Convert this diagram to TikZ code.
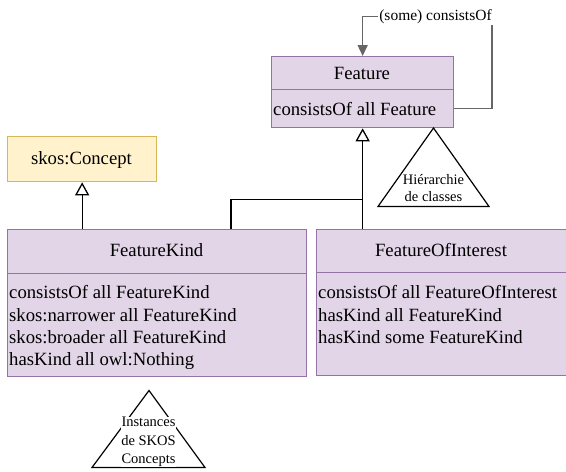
\documentclass[tikz,border=0pt]{standalone}
\usepackage{fontspec}
\setmainfont{Liberation Serif}
\usetikzlibrary{arrows.meta}
\definecolor{boxfill}{HTML}{E1D5E7}
\definecolor{boxline}{HTML}{9673A6}
\definecolor{skosfill}{HTML}{FFF2CC}
\definecolor{skosline}{HTML}{D6B656}
\definecolor{loopgray}{HTML}{666666}
\tikzset{
  umlbox/.style={draw=boxline, fill=boxfill, line width=1.3pt, inner sep=0pt, anchor=north west},
  skosbox/.style={draw=skosline, fill=skosfill, line width=1.3pt, inner sep=0pt, anchor=north west},
  big/.style={font=\fontsize{18.7}{22.5}\selectfont, inner sep=0pt},
  title/.style={big, anchor=base},
  attr/.style={big, anchor=base west},
  inh/.style={draw=black, line width=1.3pt, -{Triangle[width=14pt,length=13pt,fill=white]}},
  selfloop/.style={draw=loopgray, line width=1.5pt, -{Triangle[width=10pt,length=11pt]}},
  tri/.style={draw=black, line width=1.2pt, line join=miter},
  trilabel/.style={fill=white, inner sep=0.5pt, align=center, font=\fontsize{14.5}{17.5}\selectfont},
}
\begin{document}
\begin{tikzpicture}[x=1pt,y=-1pt]
\useasboundingbox (0,0) rectangle (566,472);

% Feature
\node[umlbox, minimum width=182pt, minimum height=33pt] (feathead) at (271,56) {};
\node[umlbox, minimum width=182pt, minimum height=38pt] (featbody) at (271,89) {};
\node[title] (feattitle) at (362,79) {Feature};
\node[attr] (feata1) at (273,115) {consistsOf all Feature};

% skos:Concept
\node[skosbox, minimum width=149pt, minimum height=45pt] (skos) at (7,136) {};
\node[title] (skostitle) at (81.5,164.5) {skos:Concept};

% FeatureKind
\node[umlbox, minimum width=299pt, minimum height=44pt] (fkhead) at (7,229) {};
\node[umlbox, minimum width=299pt, minimum height=103pt] (fkbody) at (7,273) {};
\node[title] (fktitle) at (156.5,256) {FeatureKind};
\node[attr] (fka1) at (9,298.5) {consistsOf all FeatureKind};
\node[attr] (fka2) at (9,321) {skos:narrower all FeatureKind};
\node[attr] (fka3) at (9,343.2) {skos:broader all FeatureKind};
\node[attr] (fka4) at (9,365.5) {hasKind all owl:Nothing};

% FeatureOfInterest
\node[umlbox, minimum width=251pt, minimum height=43pt] (foihead) at (316,229) {};
\node[umlbox, minimum width=251pt, minimum height=103pt] (foibody) at (316,272) {};
\node[title] (foititle) at (441,256) {FeatureOfInterest};
\node[attr] (foia1) at (318,298.5) {consistsOf all FeatureOfInterest};
\node[attr] (foia2) at (318,321) {hasKind all FeatureKind};
\node[attr] (foia3) at (318,343.2) {hasKind some FeatureKind};

% inheritance
\coordinate (join) at (362,199.5);
\draw[inh] (featbody.south |- foihead.north) -- (featbody.south);
\draw[line width=1.3pt] ([xshift=224pt]fkhead.north west) |- (join);
\draw[inh] (skos.south |- fkhead.north) -- (skos.south);

% self loop
\coordinate (loopcorner) at (492,16.5);
\draw[selfloop] (featbody.east) -| (loopcorner) -| (feathead.north);
\node[fill=white, inner sep=1pt, font=\fontsize{15.5}{18}\selectfont] (looplabel) at (435.5,16.5) {(some) consistsOf};

% hierarchy triangle
\coordinate (h1) at (433.5,128);
\coordinate (h2) at (489,206.5);
\coordinate (h3) at (378,206.5);
\draw[tri] (h1) -- (h2) -- (h3) -- cycle;
\node[trilabel] (hier) at (433.5,188) {Hiérarchie\\de classes};

% instances triangle
\coordinate (i1) at (149,390.5);
\coordinate (i2) at (205,467.5);
\coordinate (i3) at (92,467.5);
\draw[tri] (i1) -- (i2) -- (i3) -- cycle;
\node[trilabel, font=\fontsize{14.5}{18.5}\selectfont] (inst) at (148.5,442) {Instances\\de SKOS\\Concepts};
\end{tikzpicture}
\end{document}
